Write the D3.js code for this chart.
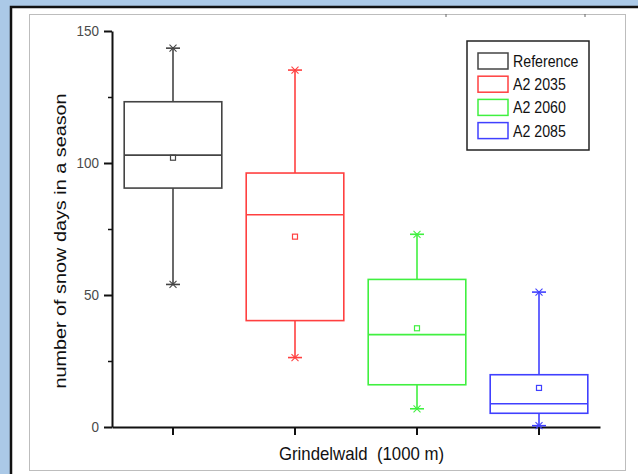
<!DOCTYPE html>
<html>
<head>
<meta charset="utf-8">
<script src="https://cdn.jsdelivr.net/npm/d3@7"></script>
<style>
html,body{margin:0;padding:0;background:#abc9e7;}
svg{display:block;}
text{font-family:"Liberation Sans",Arial,sans-serif;}
</style>
</head>
<body>
<svg id="c" width="638" height="474"></svg>
<script>
const categories = ["Reference", "A2 2035", "A2 2060", "A2 2085"];
const whiskerMax = [143.5, 135.2, 73.0, 51.1];
const q3 = [123.2, 96.2, 55.9, 19.8];
const median = [103.0, 80.4, 35.0, 8.8];
const meanVals = [102.0, 72.1, 37.4, 14.8];
const q1 = [90.5, 40.3, 16.0, 5.2];
const whiskerMin = [54.0, 26.3, 6.9, 0.5];
const colors = ["#444444", "#ff4040", "#40f040", "#4040ff"];
const yMajorTicks = [0, 50, 100, 150];
const yMinorTicks = [25, 75, 125];
const xLabel = "Grindelwald  (1000 m)";
const yLabel = "number of snow days in a season";

const svg = d3.select("#c");
const W = 638, H = 474;
const stretch = 1.14;

// background frames
svg.append("rect").attr("x", 0).attr("y", 0).attr("width", W).attr("height", H).attr("fill", "#abc9e7");
svg.append("rect").attr("x", 11).attr("y", 7).attr("width", W + 20).attr("height", H + 20)
  .attr("fill", "#ffffff").attr("stroke", "#111").attr("stroke-width", 2.5);
svg.append("rect").attr("x", 29.5).attr("y", 14.5).attr("width", 596).attr("height", 456)
  .attr("fill", "#ffffff").attr("stroke", "#bdbdbd").attr("stroke-width", 1);
[446, 585].forEach(px => svg.append("line").attr("x1", px).attr("x2", px).attr("y1", 14).attr("y2", 17)
  .attr("stroke", "#666").attr("stroke-width", 1));

const x = d3.scaleBand().domain(categories).range([112, 600]).padding(0);
const y = d3.scaleLinear().domain([0, 150]).range([427, 31]);
const boxW = x.bandwidth() * 0.8;

// y axis major
const yAx = svg.append("g").attr("transform", "translate(112,0)")
  .call(d3.axisLeft(y).tickValues(yMajorTicks).tickSize(8).tickPadding(5).tickFormat(d3.format("d")).tickSizeOuter(0));
yAx.select(".domain").attr("stroke", "#111").attr("stroke-width", 2);
yAx.selectAll(".tick line").attr("stroke", "#111").attr("stroke-width", 2);
yAx.selectAll(".tick text").attr("fill", "#4a4a4a").attr("font-size", 13.5)
  .attr("font-family", "Liberation Sans, Arial, sans-serif")
  .attr("transform", `scale(1,${stretch})`);
// y axis minor
const yMin = svg.append("g").attr("transform", "translate(112,0)")
  .call(d3.axisLeft(y).tickValues(yMinorTicks).tickSize(4).tickFormat("").tickSizeOuter(0));
yMin.select(".domain").remove();
yMin.selectAll(".tick line").attr("stroke", "#111").attr("stroke-width", 1.5);

// x axis
const xAx = svg.append("g").attr("transform", "translate(0,427)")
  .call(d3.axisBottom(x).tickSize(8).tickFormat("").tickSizeOuter(0));
xAx.select(".domain").attr("stroke", "#111").attr("stroke-width", 2);
xAx.selectAll(".tick line").attr("stroke", "#111").attr("stroke-width", 2);

// boxes
categories.forEach((c, i) => {
  const cx = x(c) + x.bandwidth() / 2;
  const g = svg.append("g").attr("stroke", colors[i]).attr("fill", "none").attr("stroke-width", 1.6);
  g.append("line").attr("x1", cx).attr("x2", cx).attr("y1", y(q3[i])).attr("y2", y(whiskerMax[i]));
  g.append("line").attr("x1", cx).attr("x2", cx).attr("y1", y(q1[i])).attr("y2", y(whiskerMin[i]));
  [whiskerMax[i], whiskerMin[i]].forEach(v => {
    const yy = y(v);
    g.append("line").attr("x1", cx - 7).attr("x2", cx + 7).attr("y1", yy).attr("y2", yy);
    g.append("line").attr("x1", cx - 3.5).attr("x2", cx + 3.5).attr("y1", yy - 3.5).attr("y2", yy + 3.5).attr("stroke-width", 1.1);
    g.append("line").attr("x1", cx - 3.5).attr("x2", cx + 3.5).attr("y1", yy + 3.5).attr("y2", yy - 3.5).attr("stroke-width", 1.1);
  });
  g.append("rect").attr("x", cx - boxW / 2).attr("y", y(q3[i])).attr("width", boxW)
    .attr("height", y(q1[i]) - y(q3[i])).attr("fill", "none");
  g.append("line").attr("x1", cx - boxW / 2).attr("x2", cx + boxW / 2).attr("y1", y(median[i])).attr("y2", y(median[i]));
  g.append("rect").attr("x", cx - 2.5).attr("y", y(meanVals[i]) - 2.5).attr("width", 5).attr("height", 5)
    .attr("stroke-width", 1.2);
});

// labels
svg.append("text").attr("transform", `translate(361.5,460) scale(1,${stretch})`)
  .attr("text-anchor", "middle").attr("font-size", 16.8).attr("fill", "#111")
  .attr("xml:space", "preserve").style("white-space", "pre").text(xLabel);
svg.append("text").attr("transform", `translate(65.5,241) rotate(-90) scale(${stretch},1)`)
  .attr("text-anchor", "middle").attr("font-size", 17.4).attr("fill", "#111").text(yLabel);

// legend
const lg = svg.append("g");
lg.append("rect").attr("x", 467).attr("y", 41).attr("width", 122).attr("height", 109)
  .attr("fill", "#fff").attr("stroke", "#222").attr("stroke-width", 1.5);
categories.forEach((c, i) => {
  const yy = 53 + i * 23.2;
  lg.append("rect").attr("x", 478).attr("y", yy).attr("width", 30).attr("height", 16)
    .attr("fill", "none").attr("stroke", colors[i]).attr("stroke-width", 1.5);
  lg.append("text").attr("transform", `translate(513,${yy + 14}) scale(1,${stretch})`)
    .attr("font-size", 14.2).attr("fill", "#111").text(c);
});
</script>
</body>
</html>
